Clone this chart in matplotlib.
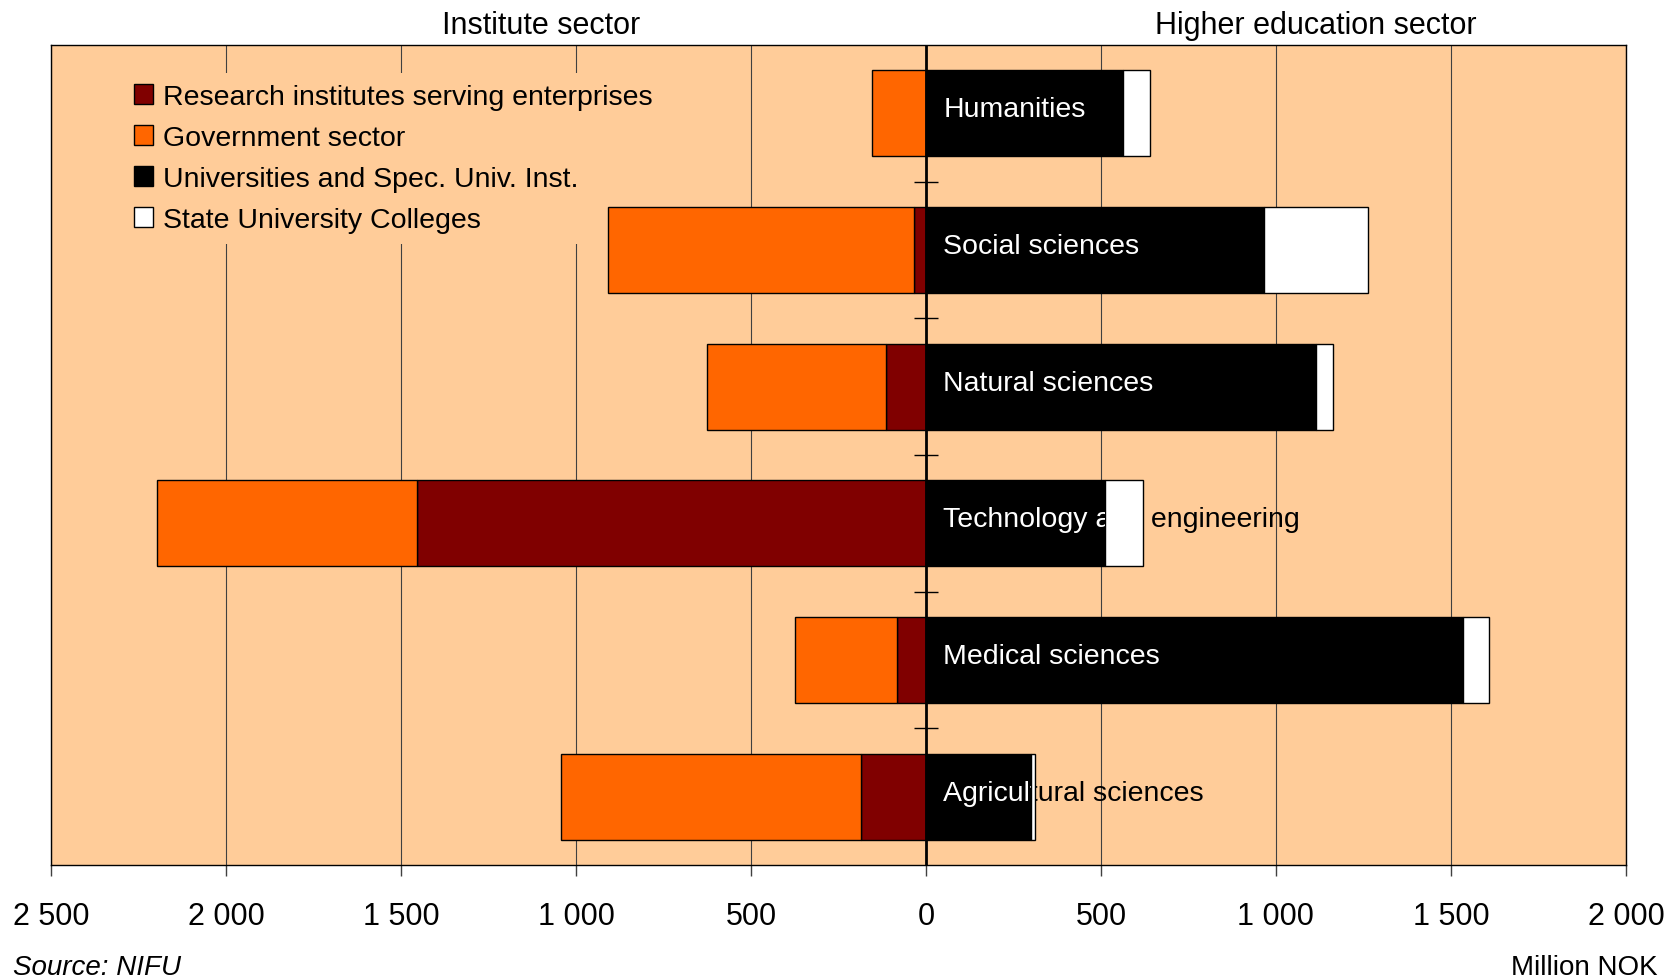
import matplotlib
matplotlib.use('Agg')
import matplotlib.pyplot as plt
import matplotlib.transforms as mtransforms
from matplotlib.patches import Patch
from matplotlib.ticker import FuncFormatter, MultipleLocator
import numpy as np

plt.rcParams['font.family'] = ['Liberation Sans', 'DejaVu Sans']

categories = ['Humanities', 'Social sciences', 'Natural sciences',
              'Technology and engineering', 'Medical sciences', 'Agricultural sciences']
# institute sector (drawn to the left)
research_inst = [0, 33, 115, 1453, 82, 186]
government = [154, 876, 511, 745, 292, 857]
# higher education sector (drawn to the right)
universities = [563, 967, 1115, 511, 1535, 300]
state_colleges = [78, 297, 49, 109, 73, 11]

series_names = ['Research institutes serving enterprises', 'Government sector',
                'Universities and Spec. Univ. Inst.', 'State University Colleges']

bg = '#FFCC99'
c_red = '#800000'
c_orange = '#FF6600'

fig = plt.figure(figsize=(16.71, 9.79), dpi=100)
ax = fig.add_axes([0.0305, 0.1154, 0.9425, 0.8376])
ax.set_facecolor(bg)

y = np.arange(len(categories))
h = 0.63
ri = np.array(research_inst)
gov = np.array(government)
uni = np.array(universities)
sc = np.array(state_colleges)

ax.barh(y, -ri, height=h, color=c_red, edgecolor='black', linewidth=1, zorder=3)
ax.barh(y, -gov, left=-ri, height=h, color=c_orange, edgecolor='black', linewidth=1, zorder=3)
uni_bars = ax.barh(y, uni, height=h, color='black', edgecolor='black', linewidth=1, zorder=3)
ax.barh(y, sc, left=uni, height=h, color='white', edgecolor='black', linewidth=1, zorder=3)

# category labels: black behind the bars, white on top clipped to the black bar
for i, cat in enumerate(categories):
    ax.text(50, i - 0.03, cat, fontsize=20.5, color='black', va='center', ha='left', zorder=2.5)
    t = ax.text(50, i - 0.03, cat, fontsize=20.5, color='white', va='center', ha='left', zorder=4)
    clip = mtransforms.TransformedBbox(uni_bars.patches[i].get_bbox(), ax.transData)
    t.set_clip_box(clip)
    t.set_clip_on(True)

# zero axis with tick marks between categories
ax.axvline(0, color='black', linewidth=2, zorder=5)
ax.plot(np.zeros(len(categories) - 1), y[:-1] + 0.5, linestyle='none', marker='_',
        markersize=17, markeredgewidth=1, color='black', zorder=5)

ax.set_xlim(-2500, 2000)
ax.set_ylim(len(categories) - 0.5, -0.5)
ax.xaxis.set_major_locator(MultipleLocator(500))
ax.xaxis.set_major_formatter(FuncFormatter(lambda v, p: f'{abs(v):,.0f}'.replace(',', ' ')))
ax.set_yticks([])
ax.tick_params(axis='x', direction='out', length=8, width=1, color='#404040',
               labelsize=22, pad=18)
ax.grid(axis='x', color='#404040', linewidth=0.8)
ax.set_axisbelow(True)
for s in ax.spines.values():
    s.set_color('black')
    s.set_linewidth(1)

handles = [Patch(facecolor=c, edgecolor='black', linewidth=1)
           for c in [c_red, c_orange, 'black', 'white']]
leg = ax.legend(handles, series_names, loc='upper left', bbox_to_anchor=(0.0457, 0.966),
                borderaxespad=0, borderpad=0.4, fontsize=20.5, handlelength=0.65,
                handleheight=0.7, handletextpad=0.35, labelspacing=0.52,
                frameon=True, facecolor=bg, edgecolor='none', framealpha=1, fancybox=False)
leg.set_zorder(1.5)

trans = mtransforms.blended_transform_factory(ax.transData, ax.transAxes)
ax.text(-1100, 1.024, 'Institute sector', transform=trans, ha='center', va='center', fontsize=22)
ax.text(1115, 1.024, 'Higher education sector', transform=trans, ha='center', va='center', fontsize=22)

fig.text(13 / 1671, 1 - 968 / 979, 'Source: NIFU', style='italic', fontsize=20, va='center', ha='left')
fig.text(1658 / 1671, 1 - 968 / 979, 'Million NOK', fontsize=20, va='center', ha='right')

fig.savefig('out.png', dpi=100, facecolor='white')
